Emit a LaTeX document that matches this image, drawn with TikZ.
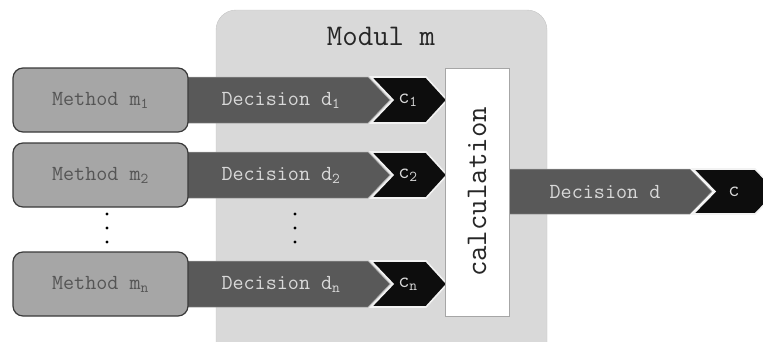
\documentclass[tikz,border=0pt]{standalone}
\usepackage{fontspec}
\usetikzlibrary{positioning}

\definecolor{modfill}{HTML}{D9D9D9}
\definecolor{modline}{HTML}{C4C4C4}
\definecolor{boxfill}{HTML}{A6A6A6}
\definecolor{boxline}{HTML}{3A3A3A}
\definecolor{bandfill}{HTML}{595959}
\definecolor{tipfill}{HTML}{0D0D0D}
\definecolor{lighttext}{HTML}{D9D9D9}
\definecolor{darktext}{HTML}{555555}

\tikzset{
  methodbox/.style={draw=boxline, fill=boxfill, line width=1.2pt,
                    rounded corners=10pt, minimum width=175pt,
                    minimum height=64pt, text=darktext,
                    font=\ttfamily\fontsize{21.5}{25}\selectfont},
  bandtext/.style={text=lighttext, font=\ttfamily\fontsize{21.5}{25}\selectfont},
  calcbox/.style={draw=gray!70, fill=white, line width=0.6pt,
                  minimum width=248pt, minimum height=64pt,
                  text=black!85, font=\ttfamily\fontsize{30}{34}\selectfont},
  bandpath/.style={fill=bandfill, draw=gray!70, line width=0.5pt},
  tippath/.style={fill=tipfill, draw=white!90!gray, line width=1.6pt}
}

\begin{document}
\begin{tikzpicture}[x=1pt,y=-1pt]
\useasboundingbox (0,0) rectangle (763,341);
%    module background
      \draw[fill=modfill,
            draw=modline,
            rounded corners=20pt] (216,10) rectangle (547,362);
      \node[text=black!85, font=\ttfamily\fontsize{30}{34}\selectfont] (title) at (381,36) {Modul m};
%    one row per method
    \foreach \i/\y/\s in {1/100/1, 2/175/2, 3/284/n}{
      \draw[bandpath] (180,\y-23) -- (368,\y-23) -- (390,\y)
            -- (368,\y+23) -- (180,\y+23) -- cycle;
      \draw[tippath] (371,\y-23) -- (426,\y-23) -- (447,\y)
            -- (426,\y+23) -- (371,\y+23) -- (393,\y) -- cycle;
      \node[methodbox] (m\i) at (100.5,\y) {Method m\textsubscript{\s}};
      \node[bandtext] (d\i) at (281,\y) {Decision d\textsubscript{\s}};
      \node[bandtext] (c\i) at (408,\y) {c\textsubscript{\s}};
    }
%    dots
    \foreach \x in {107,295}{
      \foreach \y in {214,228,242}{
        \fill[black] (\x,\y) circle (1.6pt);
      }
    }
%    output decision
      \draw[bandpath] (505,169) -- (690,169) -- (712,191.5)
            -- (690,214) -- (505,214) -- cycle;
      \draw[tippath] (693,169) -- (755,169) -- (777,191.5)
            -- (755,214) -- (693,214) -- (715,191.5) -- cycle;
      \node[calcbox, rotate=90] (calc) at (477,192) {calculation};
      \node[bandtext] (dout) at (605,191.5) {Decision d};
      \node[bandtext] (cout) at (734,191.5) {c};
    \end{tikzpicture}
\end{document}
